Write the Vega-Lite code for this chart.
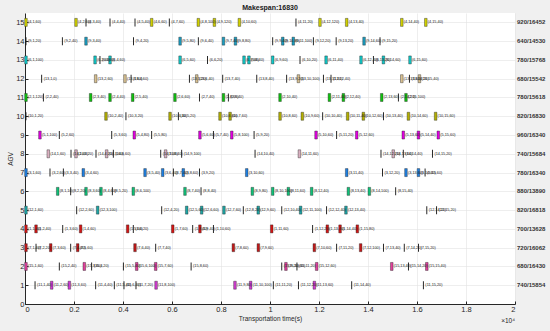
{
 "$schema": "https://vega.github.io/schema/vega-lite/v6.json",
 "width": 490, "height": 291,
 "autosize": "none",
 "padding": {"left": 25, "top": 13, "right": 35, "bottom": 27},
 "background": "#f0f0f0",
 "config": {"view": {"fill": "white", "stroke": null}, "font": "Liberation Sans",
  "axisY": {"grid": true, "gridColor": "#e3e3e3", "gridWidth": 0.6, "domainColor": "#262626", "tickColor": "#262626", "tickSize": -3,
   "labelFontSize": 7.5, "labelColor": "#262626", "labelPadding": 4, "labelFont": "Liberation Sans", "labelOverlap": false,
   "titleFontSize": 6.5, "titleFontWeight": "normal", "titleColor": "#262626", "titlePadding": 2, "titleFont": "Liberation Sans", "tickCount": 16}},
 "title": {"text": "Makespan:16830", "fontSize": 7, "fontWeight": "bold", "offset": 2, "color": "#1a1a1a", "font": "Liberation Sans"},
 "datasets": {
  "tasks": [
   {"a":15,"t":40,"k":1,"l":"(4,1,60)"},{"a":15,"t":2082,"k":1,"l":"(4,2,60)"},{"a":15,"t":2490,"k":0,"l":"(4,3,40)"},{"a":15,"t":3470,"k":0,"l":"(4,4,40)"},{"a":15,"t":4490,"k":0,"l":"(4,5,40)"},{"a":15,"t":5170,"k":1,"l":"(4,6,60)"},{"a":15,"t":5890,"k":0,"l":"(4,7,60)"},{"a":15,"t":7075,"k":1,"l":"(4,8,100)"},{"a":15,"t":7730,"k":1,"l":"(4,9,120)"},{"a":15,"t":8750,"k":1,"l":"(4,10,60)"},{"a":15,"t":11060,"k":0,"l":"(4,11,20)"},{"a":15,"t":12040,"k":1,"l":"(4,12,120)"},{"a":15,"t":13130,"k":1,"l":"(4,13,40)"},{"a":15,"t":15380,"k":1,"l":"(4,14,40)"},{"a":15,"t":16360,"k":1,"l":"(4,15,40)"},
   {"a":14,"t":40,"k":0,"l":"(9,1,20)"},{"a":14,"t":1525,"k":0,"l":"(9,2,40)"},{"a":14,"t":2490,"k":1,"l":"(9,3,40)"},{"a":14,"t":4430,"k":0,"l":"(9,4,20)"},{"a":14,"t":6330,"k":1,"l":"(9,5,80)"},{"a":14,"t":7075,"k":0,"l":"(9,6,40)"},{"a":14,"t":8100,"k":1,"l":"(9,7,40)"},{"a":14,"t":8590,"k":1,"l":"(9,8,80)"},{"a":14,"t":10110,"k":0,"l":"(9,9,40)"},{"a":14,"t":10520,"k":1,"l":"(9,10,80)"},{"a":14,"t":10950,"k":1,"l":"(9,11,100)"},{"a":14,"t":11770,"k":0,"l":"(9,12,20)"},{"a":14,"t":12700,"k":0,"l":"(9,13,20)"},{"a":14,"t":13840,"k":1,"l":"(9,14,60)"},{"a":14,"t":14490,"k":0,"l":"(9,15,20)"},
   {"a":13,"t":40,"k":1,"l":"(6,1,100)"},{"a":13,"t":2860,"k":1,"l":"(6,2,60)"},{"a":13,"t":3060,"k":0,"l":"(6,3,60)"},{"a":13,"t":3470,"k":1,"l":"(6,4,60)"},{"a":13,"t":6330,"k":1,"l":"(6,5,60)"},{"a":13,"t":7450,"k":0,"l":"(6,6,20)"},{"a":13,"t":8940,"k":1,"l":"(6,7,60)"},{"a":13,"t":9140,"k":1,"l":"(6,8,40)"},{"a":13,"t":10110,"k":1,"l":"(6,9,60)"},{"a":13,"t":11225,"k":0,"l":"(6,10,20)"},{"a":13,"t":12290,"k":1,"l":"(6,11,40)"},{"a":13,"t":13715,"k":1,"l":"(6,12,40)"},{"a":13,"t":14220,"k":0,"l":"(6,13,20)"},{"a":13,"t":14630,"k":1,"l":"(6,14,60)"},{"a":13,"t":15715,"k":1,"l":"(6,15,60)"},
   {"a":12,"t":680,"k":0,"l":"(13,1,0)"},{"a":12,"t":2885,"k":1,"l":"(13,2,60)"},{"a":12,"t":4080,"k":1,"l":"(13,3,60)"},{"a":12,"t":4330,"k":0,"l":"(13,4,60)"},{"a":12,"t":6710,"k":0,"l":"(13,5,20)"},{"a":12,"t":7010,"k":1,"l":"(13,6,40)"},{"a":12,"t":8070,"k":0,"l":"(13,7,40)"},{"a":12,"t":9460,"k":0,"l":"(13,8,40)"},{"a":12,"t":10680,"k":0,"l":"(13,9,20)"},{"a":12,"t":11160,"k":1,"l":"(13,10,100)"},{"a":12,"t":12180,"k":0,"l":"(13,11,20)"},{"a":12,"t":12490,"k":0,"l":"(13,12,40)"},{"a":12,"t":15380,"k":1,"l":"(13,13,60)"},{"a":12,"t":15690,"k":0,"l":"(13,14,20)"},{"a":12,"t":16100,"k":1,"l":"(13,15,40)"},
   {"a":11,"t":40,"k":1,"l":"(2,1,120)"},{"a":11,"t":750,"k":0,"l":"(2,2,40)"},{"a":11,"t":2680,"k":1,"l":"(2,3,40)"},{"a":11,"t":3470,"k":1,"l":"(2,4,40)"},{"a":11,"t":4395,"k":1,"l":"(2,5,40)"},{"a":11,"t":6120,"k":1,"l":"(2,6,60)"},{"a":11,"t":7120,"k":0,"l":"(2,7,40)"},{"a":11,"t":8100,"k":1,"l":"(2,8,60)"},{"a":11,"t":8300,"k":0,"l":"(2,9,40)"},{"a":11,"t":10410,"k":1,"l":"(2,10,40)"},{"a":11,"t":12425,"k":1,"l":"(2,11,40)"},{"a":11,"t":12995,"k":1,"l":"(2,12,40)"},{"a":11,"t":14560,"k":1,"l":"(2,13,60)"},{"a":11,"t":15240,"k":0,"l":"(2,14,20)"},{"a":11,"t":15550,"k":1,"l":"(2,15,100)"},
   {"a":10,"t":40,"k":0,"l":"(10,1,20)"},{"a":10,"t":3306,"k":1,"l":"(10,2,40)"},{"a":10,"t":4120,"k":0,"l":"(10,3,20)"},{"a":10,"t":5920,"k":1,"l":"(10,4,40)"},{"a":10,"t":6260,"k":0,"l":"(10,5,20)"},{"a":10,"t":7960,"k":1,"l":"(10,6,60)"},{"a":10,"t":8370,"k":1,"l":"(10,7,60)"},{"a":10,"t":10410,"k":1,"l":"(10,8,60)"},{"a":10,"t":11320,"k":1,"l":"(10,9,60)"},{"a":10,"t":12150,"k":0,"l":"(10,10,40)"},{"a":10,"t":13170,"k":1,"l":"(10,11,40)"},{"a":10,"t":13810,"k":1,"l":"(10,12,60)"},{"a":10,"t":14630,"k":0,"l":"(10,13,40)"},{"a":10,"t":15650,"k":1,"l":"(10,14,60)"},{"a":10,"t":16760,"k":1,"l":"(10,15,60)"},
   {"a":9,"t":610,"k":1,"l":"(5,1,100)"},{"a":9,"t":1400,"k":0,"l":"(5,2,60)"},{"a":9,"t":3540,"k":0,"l":"(5,3,60)"},{"a":9,"t":4460,"k":1,"l":"(5,4,80)"},{"a":9,"t":5170,"k":0,"l":"(5,5,80)"},{"a":9,"t":7140,"k":1,"l":"(5,6,60)"},{"a":9,"t":7690,"k":0,"l":"(5,7,40)"},{"a":9,"t":8440,"k":1,"l":"(5,8,100)"},{"a":9,"t":9350,"k":0,"l":"(5,9,20)"},{"a":9,"t":11880,"k":1,"l":"(5,10,60)"},{"a":9,"t":12720,"k":0,"l":"(5,11,20)"},{"a":9,"t":13540,"k":1,"l":"(5,12,60)"},{"a":9,"t":15440,"k":1,"l":"(5,13,60)"},{"a":9,"t":16060,"k":1,"l":"(5,14,40)"},{"a":9,"t":16870,"k":1,"l":"(5,15,60)"},
   {"a":8,"t":950,"k":1,"l":"(14,1,60)"},{"a":8,"t":1878,"k":0,"l":"(14,2,40)"},{"a":8,"t":2082,"k":1,"l":"(14,3,20)"},{"a":8,"t":2898,"k":0,"l":"(14,4,20)"},{"a":8,"t":3333,"k":1,"l":"(14,5,60)"},{"a":8,"t":3605,"k":0,"l":"(14,6,60)"},{"a":8,"t":5540,"k":0,"l":"(14,7,40)"},{"a":8,"t":5740,"k":1,"l":"(14,8,40)"},{"a":8,"t":6395,"k":0,"l":"(14,9,100)"},{"a":8,"t":9390,"k":0,"l":"(14,10,40)"},{"a":8,"t":11200,"k":1,"l":"(14,11,60)"},{"a":8,"t":14530,"k":0,"l":"(14,12,20)"},{"a":8,"t":15030,"k":1,"l":"(14,13,60)"},{"a":8,"t":15440,"k":0,"l":"(14,14,40)"},{"a":8,"t":16630,"k":0,"l":"(14,15,20)"},
   {"a":7,"t":40,"k":1,"l":"(3,1,60)"},{"a":7,"t":1020,"k":0,"l":"(3,2,60)"},{"a":7,"t":1565,"k":0,"l":"(3,3,40)"},{"a":7,"t":2380,"k":1,"l":"(3,4,60)"},{"a":7,"t":4900,"k":1,"l":"(3,5,40)"},{"a":7,"t":5620,"k":1,"l":"(3,6,40)"},{"a":7,"t":6055,"k":0,"l":"(3,7,40)"},{"a":7,"t":6460,"k":1,"l":"(3,8,60)"},{"a":7,"t":7120,"k":0,"l":"(3,9,20)"},{"a":7,"t":9050,"k":1,"l":"(3,10,60)"},{"a":7,"t":13130,"k":1,"l":"(3,11,40)"},{"a":7,"t":14590,"k":0,"l":"(3,12,20)"},{"a":7,"t":15550,"k":1,"l":"(3,13,60)"},{"a":7,"t":16060,"k":1,"l":"(3,14,40)"},{"a":7,"t":16330,"k":0,"l":"(3,15,60)"},
   {"a":6,"t":1335,"k":1,"l":"(8,1,10)"},{"a":6,"t":1865,"k":0,"l":"(8,2,20)"},{"a":6,"t":2490,"k":1,"l":"(8,3,60)"},{"a":6,"t":3100,"k":1,"l":"(8,4,60)"},{"a":6,"t":3565,"k":0,"l":"(8,5,20)"},{"a":6,"t":4420,"k":1,"l":"(8,6,100)"},{"a":6,"t":6530,"k":1,"l":"(8,7,40)"},{"a":6,"t":7185,"k":0,"l":"(8,8,40)"},{"a":6,"t":9280,"k":1,"l":"(8,9,80)"},{"a":6,"t":10110,"k":1,"l":"(8,10,100)"},{"a":6,"t":10750,"k":1,"l":"(8,11,60)"},{"a":6,"t":11700,"k":1,"l":"(8,12,40)"},{"a":6,"t":13200,"k":1,"l":"(8,13,40)"},{"a":6,"t":14055,"k":1,"l":"(8,14,100)"},{"a":6,"t":15130,"k":0,"l":"(8,15,40)"},
   {"a":5,"t":40,"k":1,"l":"(12,1,60)"},{"a":5,"t":2110,"k":0,"l":"(12,2,60)"},{"a":5,"t":2965,"k":1,"l":"(12,3,100)"},{"a":5,"t":5580,"k":0,"l":"(12,4,20)"},{"a":5,"t":6600,"k":1,"l":"(12,5,60)"},{"a":5,"t":7210,"k":1,"l":"(12,6,60)"},{"a":5,"t":8120,"k":1,"l":"(12,7,60)"},{"a":5,"t":8910,"k":0,"l":"(12,8,20)"},{"a":5,"t":9520,"k":1,"l":"(12,9,60)"},{"a":5,"t":10480,"k":0,"l":"(12,10,40)"},{"a":5,"t":11250,"k":1,"l":"(12,11,100)"},{"a":5,"t":12310,"k":0,"l":"(12,12,40)"},{"a":5,"t":13100,"k":1,"l":"(12,13,40)"},{"a":5,"t":16400,"k":0,"l":"(12,14,20)"},{"a":5,"t":16800,"k":0,"l":"(12,15,20)"},
   {"a":4,"t":40,"k":1,"l":"(1,1,40)"},{"a":4,"t":450,"k":1,"l":"(1,2,40)"},{"a":4,"t":1540,"k":0,"l":"(1,3,60)"},{"a":4,"t":2270,"k":1,"l":"(1,4,60)"},{"a":4,"t":4190,"k":1,"l":"(1,5,60)"},{"a":4,"t":4420,"k":0,"l":"(1,6,20)"},{"a":4,"t":6030,"k":1,"l":"(1,7,60)"},{"a":4,"t":6845,"k":0,"l":"(1,8,40)"},{"a":4,"t":7140,"k":1,"l":"(1,9,40)"},{"a":4,"t":7690,"k":0,"l":"(1,10,60)"},{"a":4,"t":10070,"k":1,"l":"(1,11,60)"},{"a":4,"t":11740,"k":0,"l":"(1,12,20)"},{"a":4,"t":12340,"k":1,"l":"(1,13,40)"},{"a":4,"t":12860,"k":1,"l":"(1,14,40)"},{"a":4,"t":13565,"k":1,"l":"(1,15,80)"},
   {"a":3,"t":40,"k":1,"l":"(7,1,40)"},{"a":3,"t":450,"k":0,"l":"(7,2,20)"},{"a":3,"t":1050,"k":1,"l":"(7,3,60)"},{"a":3,"t":1865,"k":0,"l":"(7,4,40)"},{"a":3,"t":2150,"k":1,"l":"(7,5,60)"},{"a":3,"t":4490,"k":1,"l":"(7,6,40)"},{"a":3,"t":5335,"k":0,"l":"(7,7,40)"},{"a":3,"t":8505,"k":1,"l":"(7,8,60)"},{"a":3,"t":9525,"k":1,"l":"(7,9,60)"},{"a":3,"t":11810,"k":1,"l":"(7,10,60)"},{"a":3,"t":12720,"k":0,"l":"(7,11,20)"},{"a":3,"t":13700,"k":1,"l":"(7,12,100)"},{"a":3,"t":14630,"k":0,"l":"(7,13,40)"},{"a":3,"t":15480,"k":0,"l":"(7,14,20)"},{"a":3,"t":16060,"k":0,"l":"(7,15,20)"},
   {"a":2,"t":40,"k":1,"l":"(15,1,60)"},{"a":2,"t":1400,"k":0,"l":"(15,2,40)"},{"a":2,"t":2420,"k":1,"l":"(15,3,60)"},{"a":2,"t":2720,"k":0,"l":"(15,4,20)"},{"a":2,"t":4015,"k":0,"l":"(15,5,40)"},{"a":2,"t":4560,"k":1,"l":"(15,6,100)"},{"a":2,"t":5335,"k":1,"l":"(15,7,60)"},{"a":2,"t":6780,"k":0,"l":"(15,8,60)"},{"a":2,"t":10480,"k":0,"l":"(15,9,20)"},{"a":2,"t":10650,"k":1,"l":"(15,10,60)"},{"a":2,"t":11100,"k":0,"l":"(15,11,20)"},{"a":2,"t":11905,"k":1,"l":"(15,12,60)"},{"a":2,"t":14970,"k":1,"l":"(15,13,40)"},{"a":2,"t":15650,"k":0,"l":"(15,14,20)"},{"a":2,"t":16400,"k":1,"l":"(15,15,40)"},
   {"a":1,"t":410,"k":0,"l":"(11,1,40)"},{"a":1,"t":1090,"k":1,"l":"(11,2,60)"},{"a":1,"t":1810,"k":1,"l":"(11,3,60)"},{"a":1,"t":2885,"k":0,"l":"(11,4,40)"},{"a":1,"t":3645,"k":0,"l":"(11,5,40)"},{"a":1,"t":4040,"k":0,"l":"(11,6,40)"},{"a":1,"t":4530,"k":0,"l":"(11,7,20)"},{"a":1,"t":5350,"k":1,"l":"(11,8,100)"},{"a":1,"t":8570,"k":1,"l":"(11,9,80)"},{"a":1,"t":9210,"k":1,"l":"(11,10,100)"},{"a":1,"t":10135,"k":0,"l":"(11,11,20)"},{"a":1,"t":11160,"k":0,"l":"(11,12,20)"},{"a":1,"t":11810,"k":1,"l":"(11,13,60)"},{"a":1,"t":13335,"k":0,"l":"(11,14,40)"},{"a":1,"t":16260,"k":0,"l":"(11,15,20)"}
  ],
  "info": [
   {"a":15,"s":"920/16452"},{"a":14,"s":"640/14530"},{"a":13,"s":"780/15768"},{"a":12,"s":"680/15542"},{"a":11,"s":"780/15618"},{"a":10,"s":"820/16830"},{"a":9,"s":"960/16340"},{"a":8,"s":"740/15684"},{"a":7,"s":"780/16340"},{"a":6,"s":"880/13890"},{"a":5,"s":"820/16818"},{"a":4,"s":"700/13628"},{"a":3,"s":"720/16062"},{"a":2,"s":"680/16430"},{"a":1,"s":"740/15854"}
  ],
  "note": [{"m": "×10⁴"}]
 },
 "layer": [
  {"data": {"name": "tasks"}, "transform": [{"filter": "datum.k == 0"}],
   "mark": {"type": "tick", "orient": "vertical", "size": 8, "thickness": 0.9, "color": "#111111", "opacity": 1},
   "encoding": {
    "x": {"field": "t", "type": "quantitative",
     "scale": {"domain": [0, 20000], "nice": false, "zero": false},
     "axis": {"values": [0,2000,4000,6000,8000,10000,12000,14000,16000,18000,20000], "labelExpr": "datum.value/10000",
      "grid": true, "gridColor": "#e3e3e3", "gridWidth": 0.6, "domainColor": "#262626", "tickColor": "#262626", "tickSize": -3,
      "labelFontSize": 7.5, "labelColor": "#262626", "labelPadding": 4, "labelFont": "Liberation Sans", "labelOverlap": false,
      "title": "Transportation time(s)", "titleFontSize": 6.5, "titleFontWeight": "normal", "titleColor": "#262626", "titlePadding": 3, "titleFont": "Liberation Sans"}},
    "y": {"field": "a", "type": "quantitative",
     "scale": {"domain": [0, 15.5], "nice": false, "zero": false},
     "axis": {"values": [0,1,2,3,4,5,6,7,8,9,10,11,12,13,14,15], "format": "d", "title": "AGV", "tickCount": 16}}
   }},
  {"data": {"name": "tasks"}, "transform": [{"filter": "datum.k == 1"}],
   "mark": {"type": "tick", "orient": "vertical", "size": 8, "thickness": 2.6, "stroke": "#222222", "strokeWidth": 0.4, "opacity": 1},
   "encoding": {
    "x": {"field": "t", "type": "quantitative"},
    "y": {"field": "a", "type": "quantitative", "axis": {"values": [0,1,2,3,4,5,6,7,8,9,10,11,12,13,14,15], "format": "d", "title": "AGV", "tickCount": 16}},
    "color": {"field": "a", "type": "ordinal", "legend": null,
    "scale": {"domain": [1,2,3,4,5,6,7,8,9,10,11,12,13,14,15],
     "range": ["#d23cd2","#e0409c","#c21818","#d41414","#1ea5a5","#10c078","#1f7fe0","#d9b0c0","#e000e0","#b4b000","#10c010","#d8c090","#10c8c8","#1a9cc0","#d0d000"]}}}},
  {"data": {"name": "tasks"},
   "mark": {"type": "text", "align": "left", "baseline": "middle", "dx": 2, "fontSize": 3.8, "color": "#1a1a1a", "font": "Liberation Sans"},
   "encoding": {"x": {"field": "t", "type": "quantitative"}, "y": {"field": "a", "type": "quantitative", "axis": {"values": [0,1,2,3,4,5,6,7,8,9,10,11,12,13,14,15], "format": "d", "title": "AGV", "tickCount": 16}}, "text": {"field": "l"}}},
  {"data": {"name": "info"},
   "mark": {"type": "text", "align": "left", "baseline": "middle", "dx": 2, "fontSize": 6, "fontWeight": "bold", "color": "#333333", "font": "Liberation Sans", "x": {"expr": "width"}},
   "encoding": {"y": {"field": "a", "type": "quantitative", "axis": {"values": [0,1,2,3,4,5,6,7,8,9,10,11,12,13,14,15], "format": "d", "title": "AGV", "tickCount": 16}}, "text": {"field": "s"}}},
  {"data": {"name": "note"},
   "mark": {"type": "text", "align": "right", "baseline": "middle", "fontSize": 6.5, "color": "#262626", "font": "Liberation Sans"},
   "encoding": {"x": {"datum": 20000, "type": "quantitative"}, "y": {"datum": -0.9, "type": "quantitative", "axis": {"values": [0,1,2,3,4,5,6,7,8,9,10,11,12,13,14,15], "format": "d", "title": "AGV", "tickCount": 16}}, "text": {"field": "m"}}}
 ]
}
